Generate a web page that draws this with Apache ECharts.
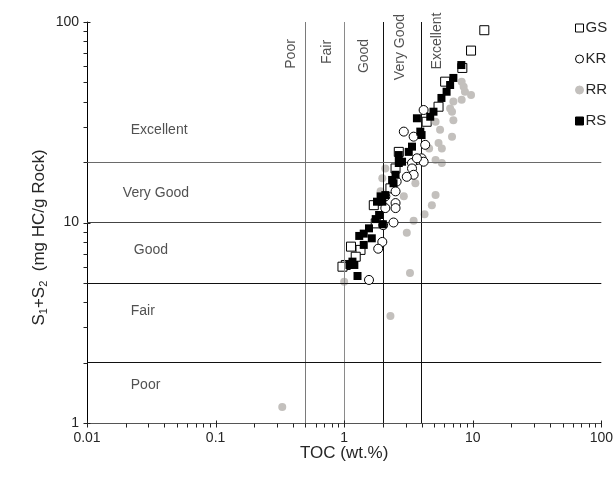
<!DOCTYPE html>
<html>
<head>
<meta charset="utf-8">
<script src="https://cdn.jsdelivr.net/npm/echarts@6/dist/echarts.min.js"></script>
<style>
  html, body { margin: 0; padding: 0; background: #fff; }
  #chart { width: 616px; height: 488px; }
</style>
</head>
<body>
<div id="chart"></div>
<script>
// TOC (wt.%) vs S1+S2 (mg HC/g Rock), one array pair per sample group
const gsTOC = [12.3, 9.7, 8.3, 6.1, 5.42, 4.38, 2.66, 2.51, 2.29, 1.7, 1.76, 1.34, 1.23, 1.13, 1.03, 0.97];
const gsS1S2 = [91, 72, 59, 50.4, 37.8, 31.8, 22.5, 18.6, 14.8, 12.2, 9.9, 7.3, 6.75, 7.58, 6.14, 6.02];

const krTOC = [4.15, 2.91, 3.47, 4.27, 4.0, 3.68, 3.37, 4.0, 4.15, 3.68, 3.37, 3.47, 3.07, 2.56, 2.51, 2.51, 2.51, 2.09, 2.09, 2.42, 2.01, 1.98, 1.84, 1.56];
const krS1S2 = [36.4, 28.4, 26.8, 24.4, 20.5, 20.5, 19.8, 20.9, 20.1, 20.9, 18.6, 17.3, 16.9, 16.0, 14.3, 12.5, 11.8, 11.8, 13.5, 10.0, 9.7, 8.0, 7.4, 5.17];

const rrTOC = [8.2, 8.5, 8.7, 9.7, 8.2, 7.07, 6.67, 6.9, 7.07, 6.9, 5.57, 5.14, 5.42, 5.75, 4.58, 5.14, 5.75, 2.09, 1.98, 1.92, 2.91, 3.58, 5.14, 4.81, 4.22, 3.47, 3.07, 3.25, 1.0, 2.29, 0.33];
const rrS1S2 = [50.4, 47.6, 44.9, 43.3, 40.9, 40.1, 37.0, 35.7, 32.4, 26.8, 29.0, 31.8, 24.9, 23.4, 23.4, 20.5, 19.8, 18.6, 16.6, 14.3, 13.5, 15.7, 13.7, 12.2, 11.0, 10.2, 8.9, 5.6, 5.07, 3.42, 1.2];

const rsTOC = [8.15, 7.07, 6.67, 6.26, 5.71, 4.95, 4.67, 3.68, 3.91, 4.0, 3.37, 3.18, 2.66, 2.82, 2.66, 2.51, 2.36, 2.42, 2.09, 1.92, 1.98, 1.8, 1.87, 1.76, 2.0, 1.56, 1.42, 1.31, 1.64, 1.42, 1.16, 1.1, 1.2, 1.27];
const rsS1S2 = [61, 52.6, 48.5, 44.9, 41.8, 35.7, 33.7, 33.1, 28.4, 27.3, 23.9, 22.5, 21.7, 20.1, 19.8, 17.3, 16.3, 15.7, 13.7, 13.5, 12.7, 12.7, 10.9, 10.4, 9.8, 9.35, 8.8, 8.57, 8.34, 7.73, 6.38, 6.14, 6.14, 5.41];

// Axis ticks and class boundaries
const xTickValues = [0.01, 0.1, 1, 10, 100];
const yTickValues = [1, 10, 100];
const minorSteps = [2, 3, 4, 5, 6, 7, 8, 9];
const tocLimits = [0.5, 1, 2, 4];
const tocLimitColors = ['#7a7a7a', '#8a8a8a', '#111', '#111'];
const s1s2Limits = [2, 5, 10, 20];
const s1s2LimitColors = ['#111', '#111', '#444', '#6a6a6a'];

// Class names: potential by S1+S2 (horizontal bands) and by TOC (vertical bands)
const s1s2Classes = ['Excellent', 'Very Good', 'Good', 'Fair', 'Poor'];
const s1s2ClassAt = [[0.0219, 28.9], [0.019, 14.0], [0.0231, 7.3], [0.0219, 3.62], [0.0219, 1.55]];
const tocClasses = ['Poor', 'Fair', 'Good', 'Very Good', 'Excellent'];
const tocClassAt = [[0.385, 69.3], [0.74, 70.9], [1.42, 67.7], [2.72, 75.0], [5.25, 80.4]];

const FONT = '"Liberation Sans", Arial, sans-serif';
const TXT = '#262626';

function pairs(xs, ys) { return xs.map((x, i) => [x, ys[i]]); }

const chart = echarts.init(document.getElementById('chart'), null, { renderer: 'canvas' });

chart.setOption({
  animation: false,
  backgroundColor: '#fff',
  textStyle: { fontFamily: FONT },
  grid: { left: 87, right: 12, top: 22, bottom: 65 },
  legend: {
    orient: 'vertical',
    left: 575,
    top: 19,
    padding: 0,
    itemWidth: 8,
    itemHeight: 8,
    itemGap: 13,
    data: ['GS', 'KR', 'RR', 'RS'],
    itemStyle: { borderWidth: 1 },
    textStyle: { fontSize: 15, color: TXT, fontFamily: FONT, lineHeight: 18, padding: [0, 0, 0, -3] }
  },
  xAxis: {
    type: 'log',
    logBase: 10,
    min: 0.01,
    max: 100,
    name: 'TOC (wt.%)',
    nameLocation: 'middle',
    nameGap: 22,
    nameMoveOverlap: false,
    nameTextStyle: { fontSize: 17, color: TXT, fontFamily: FONT },
    axisLine: { show: true, lineStyle: { color: '#555', width: 1 } },
    axisTick: { show: false },
    axisLabel: {
      fontSize: 14, color: TXT, margin: 8, fontFamily: FONT,
      formatter: v => xTickValues.find(t => Math.abs(t - v) / t < 1e-6) !== undefined ? String(+v.toPrecision(3)) : ''
    },
    splitLine: { show: false }
  },
  yAxis: {
    type: 'log',
    logBase: 10,
    min: 1,
    max: 100,
    name: '{n|S}{s|1}{n|+S}{s|2}{n|  (mg HC/g Rock)}',
    nameLocation: 'middle',
    nameGap: 38,
    nameMoveOverlap: false,
    nameRotate: 90,
    nameTextStyle: {
      color: TXT, fontFamily: FONT,
      padding: [0, 30, 0, 0],
      rich: {
        n: { fontSize: 17, color: TXT, fontFamily: FONT, lineHeight: 20, verticalAlign: 'middle' },
        s: { fontSize: 11, color: TXT, fontFamily: FONT, lineHeight: 20, verticalAlign: 'bottom', padding: [6, 0, 0, 0] }
      }
    },
    axisLine: { show: true, lineStyle: { color: '#000', width: 1 } },
    axisTick: { show: false },
    axisLabel: {
      fontSize: 14, color: TXT, margin: 8, fontFamily: FONT,
      formatter: v => yTickValues.find(t => Math.abs(t - v) / t < 1e-6) !== undefined ? String(+v.toPrecision(3)) : ''
    },
    splitLine: { show: false }
  },
  series: [
    {
      // class boundaries and class names
      name: 'classes',
      type: 'scatter',
      z: 1,
      symbolSize: 0,
      silent: true,
      legendHoverLink: false,
      data: s1s2ClassAt.map((p, i) => ({
        value: p,
        label: { show: true, formatter: s1s2Classes[i], position: 'inside', align: 'left', verticalAlign: 'middle', fontSize: 14, color: TXT, fontFamily: FONT }
      })).concat(tocClassAt.map((p, i) => ({
        value: p,
        label: { show: true, formatter: tocClasses[i], position: 'inside', rotate: 90, align: 'center', verticalAlign: 'middle', fontSize: 14, color: TXT, fontFamily: FONT }
      }))),
      markLine: {
        silent: true,
        symbol: 'none',
        label: { show: false },
        animation: false,
        data: tocLimits.map((v, i) => ({ xAxis: v, lineStyle: { color: tocLimitColors[i], width: 1, type: 'solid' } }))
          .concat(s1s2Limits.map((v, i) => ({ yAxis: v, lineStyle: { color: s1s2LimitColors[i], width: 1, type: 'solid' } })))
      }
    },
    {
      name: 'GS', type: 'scatter', z: 4, symbol: 'rect', symbolSize: 9,
      itemStyle: { color: '#fff', borderColor: '#000', borderWidth: 1, opacity: 1 },
      data: pairs(gsTOC, gsS1S2)
    },
    {
      name: 'KR', type: 'scatter', z: 5, symbol: 'circle', symbolSize: 9,
      itemStyle: { color: '#fff', borderColor: '#000', borderWidth: 1, opacity: 1 },
      data: pairs(krTOC, krS1S2)
    },
    {
      name: 'RR', type: 'scatter', z: 4, symbol: 'circle', symbolSize: 8,
      itemStyle: { color: '#c3c0bd', borderColor: '#c3c0bd', borderWidth: 0, opacity: 1 },
      data: pairs(rrTOC, rrS1S2)
    },
    {
      name: 'RS', type: 'scatter', z: 6, symbol: 'rect', symbolSize: 8,
      itemStyle: { color: '#000', borderColor: '#000', borderWidth: 0, opacity: 1 },
      data: pairs(rsTOC, rsS1S2)
    }
  ]
});

// Log-axis tick marks (decades crossing the axis, 2..9 subdivisions outside),
// positioned through the chart's own axis scales.
const ticks = [];
const seg = (x1, y1, x2, y2) => ticks.push({
  type: 'line', silent: true, z: 50,
  shape: { x1: Math.round(x1) + 0.5, y1: Math.round(y1) + 0.5, x2: Math.round(x2) + 0.5, y2: Math.round(y2) + 0.5 },
  style: { stroke: '#222', lineWidth: 1 }
});
xTickValues.forEach((d, k) => {
  const p = chart.convertToPixel({ gridIndex: 0 }, [d, 1]);
  seg(p[0], p[1] - 3, p[0], p[1] + 4);
  if (k < xTickValues.length - 1) {
    minorSteps.forEach(m => {
      const q = chart.convertToPixel({ gridIndex: 0 }, [d * m, 1]);
      seg(q[0], q[1], q[0], q[1] + 4);
    });
  }
});
yTickValues.forEach((d, k) => {
  const p = chart.convertToPixel({ gridIndex: 0 }, [0.01, d]);
  seg(p[0] - 4, p[1], p[0] + 3, p[1]);
  if (k < yTickValues.length - 1) {
    minorSteps.forEach(m => {
      const q = chart.convertToPixel({ gridIndex: 0 }, [0.01, d * m]);
      seg(q[0] - 4, q[1], q[0], q[1]);
    });
  }
});
chart.setOption({ graphic: { elements: ticks } });
</script>
</body>
</html>
